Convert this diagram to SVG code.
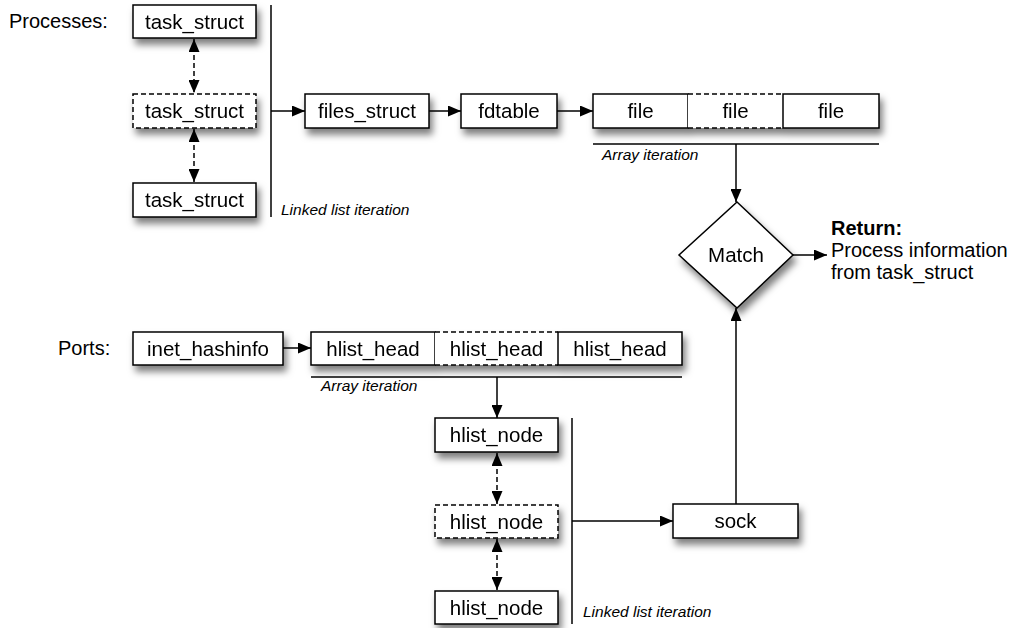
<svg xmlns="http://www.w3.org/2000/svg" width="1030" height="628" viewBox="0 0 1030 628">
<style>
.box{fill:#fff;stroke:#000;stroke-width:1.5}
.dash{stroke-dasharray:5,3}
.t{font-family:"Liberation Sans",Arial,sans-serif;font-size:20.5px;fill:#000;text-anchor:middle}
.lbl{font-family:"Liberation Sans",Arial,sans-serif;font-size:20px;fill:#000}
.it{font-family:"Liberation Sans",Arial,sans-serif;font-size:15.5px;font-style:italic;fill:#000}
.ln{stroke:#000;stroke-width:1.5;fill:none}
.dl{stroke:#000;stroke-width:1.5;fill:none;stroke-dasharray:5,3}
</style>
<defs>
<filter id="sh" x="-20%" y="-30%" width="140%" height="190%">
<feDropShadow dx="3" dy="6" stdDeviation="3.5" flood-color="#000" flood-opacity="0.5"/>
</filter>
<marker id="ah" viewBox="0 0 13 11" refX="13" refY="5.5" markerWidth="13" markerHeight="11" markerUnits="userSpaceOnUse" orient="auto-start-reverse">
<path d="M0,0 L13,5.5 L0,11 Z" fill="#000"/>
</marker>
</defs>

<text class="lbl" x="9" y="28">Processes:</text>
<text class="lbl" x="58" y="355">Ports:</text>

<g id="task_struct_1" filter="url(#sh)"><rect class="box" x="133" y="5" width="123" height="33"/><text class="t" x="194.5" y="28.5">task_struct</text></g>
<g id="task_struct_2" filter="url(#sh)"><rect class="box dash" x="133" y="94" width="123" height="34"/><text class="t" x="194.5" y="118">task_struct</text></g>
<g id="task_struct_3" filter="url(#sh)"><rect class="box" x="133" y="183" width="123" height="34"/><text class="t" x="194.5" y="207">task_struct</text></g>

<g id="files_struct" filter="url(#sh)"><rect class="box" x="305" y="94" width="124" height="34"/><text class="t" x="367" y="118">files_struct</text></g>
<g id="fdtable" filter="url(#sh)"><rect class="box" x="461" y="94" width="96" height="34"/><text class="t" x="509" y="118">fdtable</text></g>

<g id="file_array" filter="url(#sh)">
<rect class="box" x="593" y="94" width="95" height="34"/>
<rect x="688" y="94" width="95" height="34" fill="#fff"/>
<rect class="box" x="783" y="94" width="96" height="34"/>
<path class="ln dash" d="M688,94 H783 M688,128 H783"/>
<text class="t" x="640.5" y="118">file</text>
<text class="t" x="735.5" y="118">file</text>
<text class="t" x="831" y="118">file</text>
</g>

<g id="match" filter="url(#sh)"><polygon class="box" points="737,202 793,255 737,308 679,255"/><text class="t" x="736" y="262">Match</text></g>

<g id="return_text">
<text class="lbl" x="831" y="235" font-weight="bold">Return:</text>
<text class="lbl" x="831" y="257">Process information</text>
<text class="lbl" x="831" y="279">from task_struct</text>
</g>

<g id="inet_hashinfo" filter="url(#sh)"><rect class="box" x="133" y="332" width="150" height="33"/><text class="t" x="208" y="355.5">inet_hashinfo</text></g>

<g id="hlist_head_array" filter="url(#sh)">
<rect class="box" x="311" y="332" width="124" height="33"/>
<rect x="435" y="332" width="123" height="33" fill="#fff"/>
<rect class="box" x="558" y="332" width="124" height="33"/>
<path class="ln dash" d="M435,332 H558 M435,365 H558"/>
<text class="t" x="373" y="355.5">hlist_head</text>
<text class="t" x="496.5" y="355.5">hlist_head</text>
<text class="t" x="620" y="355.5">hlist_head</text>
</g>

<g id="hlist_node_1" filter="url(#sh)"><rect class="box" x="435" y="418" width="123" height="34"/><text class="t" x="496.5" y="442">hlist_node</text></g>
<g id="hlist_node_2" filter="url(#sh)"><rect class="box dash" x="435" y="505" width="123" height="33"/><text class="t" x="496.5" y="528.5">hlist_node</text></g>
<g id="hlist_node_3" filter="url(#sh)"><rect class="box" x="435" y="591" width="123" height="33"/><text class="t" x="496.5" y="614.5">hlist_node</text></g>

<g id="sock" filter="url(#sh)"><rect class="box" x="673" y="504" width="125" height="34"/><text class="t" x="735.5" y="528">sock</text></g>

<g id="connectors">
<line class="ln" x1="271" y1="5" x2="271" y2="217"/>
<line class="ln" x1="593" y1="144" x2="879" y2="144"/>
<line class="ln" x1="311" y1="377" x2="682" y2="377"/>
<line class="ln" x1="572" y1="418" x2="572" y2="624"/>
<line class="dl" x1="194" y1="39" x2="194" y2="93" marker-start="url(#ah)" marker-end="url(#ah)"/>
<line class="dl" x1="194" y1="129" x2="194" y2="182" marker-start="url(#ah)" marker-end="url(#ah)"/>
<line class="dl" x1="497" y1="453" x2="497" y2="504" marker-start="url(#ah)" marker-end="url(#ah)"/>
<line class="dl" x1="497" y1="539" x2="497" y2="590" marker-start="url(#ah)" marker-end="url(#ah)"/>
<line class="ln" x1="271" y1="111" x2="305" y2="111" marker-end="url(#ah)"/>
<line class="ln" x1="429" y1="111" x2="461" y2="111" marker-end="url(#ah)"/>
<line class="ln" x1="557" y1="111" x2="593" y2="111" marker-end="url(#ah)"/>
<line class="ln" x1="736" y1="144" x2="736" y2="202" marker-end="url(#ah)"/>
<line class="ln" x1="793" y1="255" x2="827" y2="255" marker-end="url(#ah)"/>
<line class="ln" x1="283" y1="348" x2="311" y2="348" marker-end="url(#ah)"/>
<line class="ln" x1="497" y1="377" x2="497" y2="418" marker-end="url(#ah)"/>
<line class="ln" x1="572" y1="521" x2="673" y2="521" marker-end="url(#ah)"/>
<line class="ln" x1="736" y1="504" x2="736" y2="308" marker-end="url(#ah)"/>
</g>

<text class="it" x="281" y="215">Linked list iteration</text>
<text class="it" x="602" y="160">Array iteration</text>
<text class="it" x="321" y="391">Array iteration</text>
<text class="it" x="583" y="617">Linked list iteration</text>
</svg>
